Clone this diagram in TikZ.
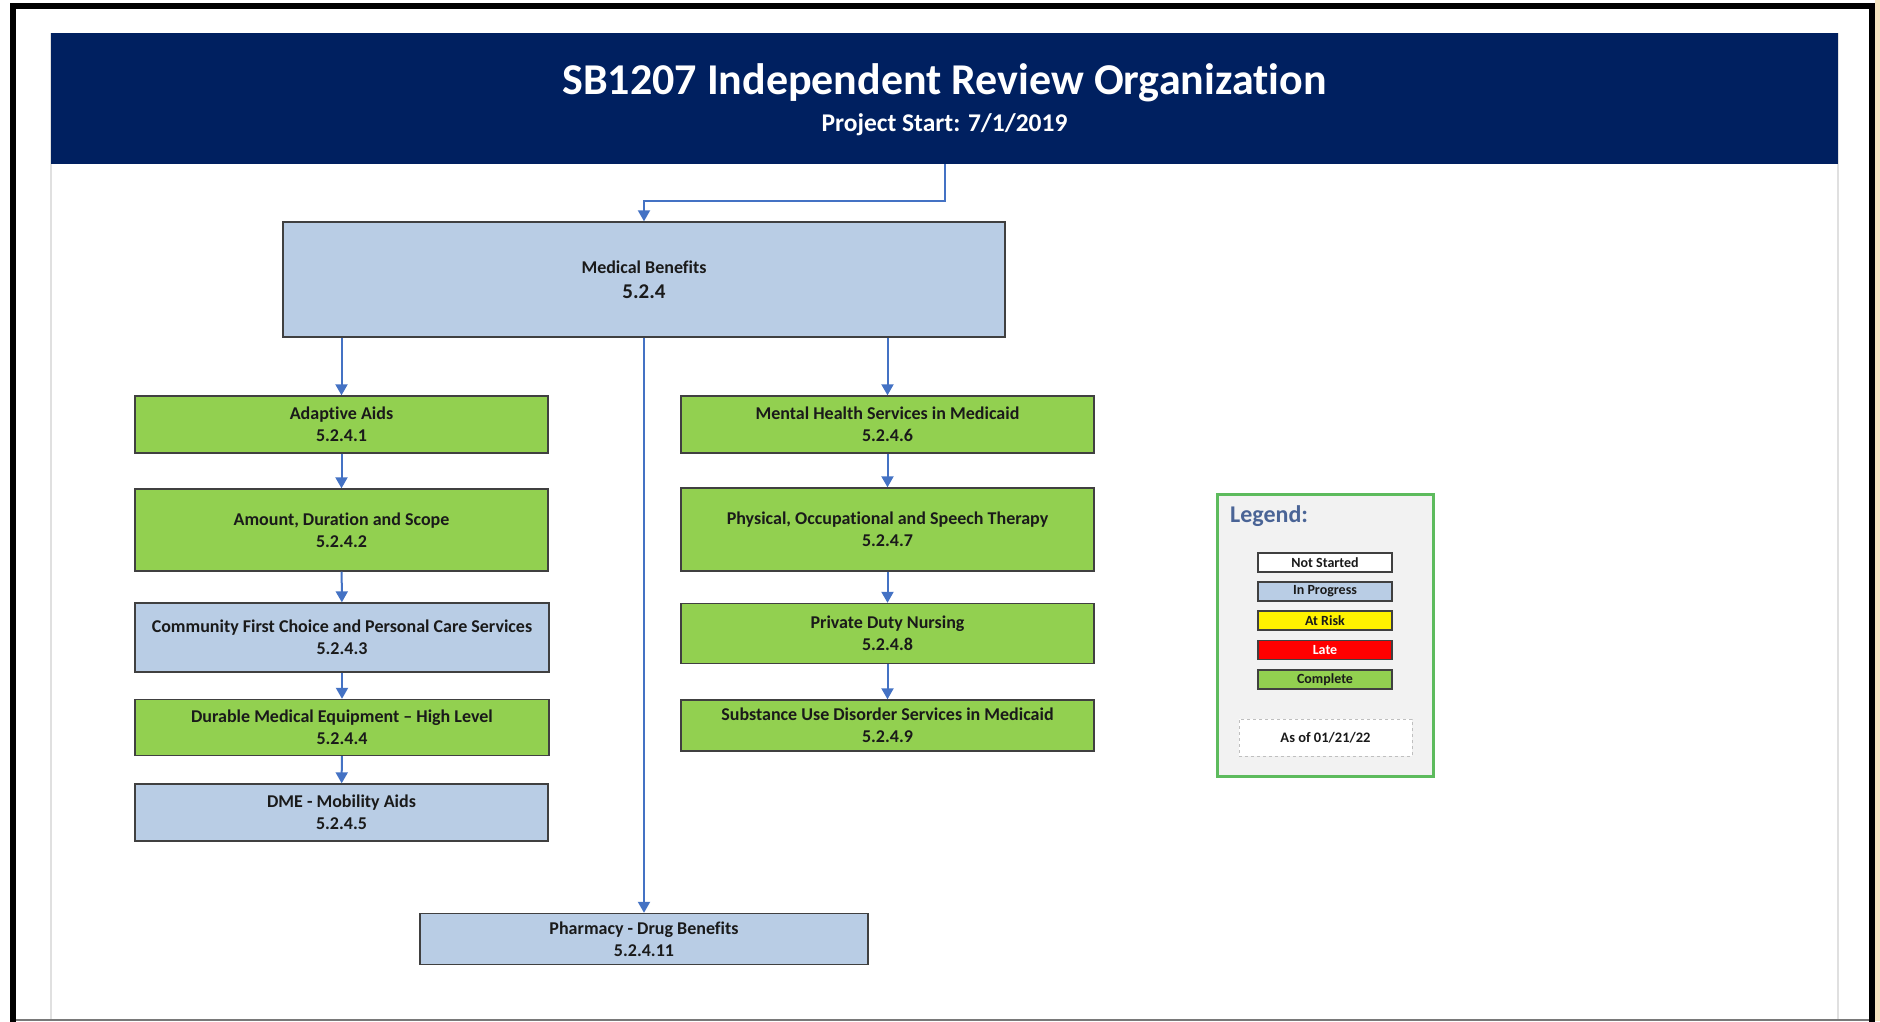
\documentclass[tikz,border=0pt]{standalone}
\usepackage{fontspec}
\setmainfont{Carlito}[Ligatures={NoCommon}]
\usetikzlibrary{arrows.meta,calc}
\definecolor{navy}{HTML}{002060}
\definecolor{grn}{HTML}{92D050}
\definecolor{lblue}{HTML}{B9CDE5}
\definecolor{arrowblue}{HTML}{4472C4}
\definecolor{txt}{HTML}{1A1A1A}
\definecolor{boxgrey}{HTML}{404040}
\definecolor{legG}{HTML}{5DBB5D}
\definecolor{legT}{HTML}{4A6496}
\definecolor{legbg}{HTML}{F2F2F2}
\definecolor{panelgrey}{HTML}{E0E0E0}
\definecolor{beige}{HTML}{F6E3BE}
\begin{document}
\begin{tikzpicture}[x=1pt,y=-1pt,
  taskbox/.style={draw=boxgrey,line width=1.4pt,inner sep=0pt,align=center,
    font=\fontsize{18}{22}\selectfont\bfseries,text=txt},
  done/.style={taskbox,fill=grn},
  prog/.style={taskbox,fill=lblue},
  conn/.style={draw=arrowblue,line width=2pt,-{Triangle[width=12pt,length=11pt]}},
  legitem/.style={draw=boxgrey,line width=1.2pt,minimum width=134pt,minimum height=19pt,
    inner sep=0pt,font=\fontsize{14}{16}\selectfont\bfseries,text=txt}]
\useasboundingbox (0,0) rectangle (1880,1021);
\clip (0,0) rectangle (1880,1021);
\fill[white] (0,0) rectangle (1880,1021);
\fill[beige] (1875,0) rectangle (1880,1021);
% frame
\draw[black,line width=5.5pt] (13,6) rectangle (1872,1060);
\draw[panelgrey,line width=2pt] (51,33) -- (51,1021) (1838,33) -- (1838,1021);
\draw[boxgrey!70,line width=2pt] (16,1020) -- (1869,1020);
% banner
\node[fill=navy,minimum width=1787pt,minimum height=131pt,inner sep=0pt] (banner) at (944.5,98.5) {};
\node[font=\fontsize{44}{50}\selectfont\bfseries,text=white] (title) at (944.5,83) {SB1207 Independent Review Organization};
\node[font=\fontsize{25.5}{30}\selectfont\bfseries,text=white] (subtitle) at (944.5,125) {Project Start: 7/1/2019};
% main box
\node[prog,minimum width=722pt,minimum height=115pt] (mb) at (644,279.5)
  {Medical Benefits\\[3pt]\fontsize{21}{25}\selectfont 5.2.4};
% left column
\node[done,minimum width=413pt,minimum height=57pt] (a1) at (341.5,424.5) {Adaptive Aids\\5.2.4.1};
\node[done,minimum width=413pt,minimum height=82pt] (a2) at (341.5,530) {Amount, Duration and Scope\\5.2.4.2};
\node[prog,minimum width=414pt,minimum height=69pt] (a3) at (342,637.5) {Community First Choice and Personal Care Services\\5.2.4.3};
\node[done,minimum width=414pt,minimum height=56pt] (a4) at (342,727.5) {Durable Medical Equipment – High Level\\5.2.4.4};
\node[prog,minimum width=413pt,minimum height=57pt] (a5) at (341.5,812.5) {DME - Mobility Aids\\5.2.4.5};
% right column
\node[done,minimum width=413pt,minimum height=57pt] (m6) at (887.5,424.5) {Mental Health Services in Medicaid\\5.2.4.6};
\node[done,minimum width=413pt,minimum height=83pt] (m7) at (887.5,529.5) {Physical, Occupational and Speech Therapy\\5.2.4.7};
\node[done,minimum width=413pt,minimum height=60pt] (m8) at (887.5,633.5) {Private Duty Nursing\\5.2.4.8};
\node[done,minimum width=413pt,minimum height=51pt] (m9) at (887.5,725.5) {Substance Use Disorder Services in Medicaid\\5.2.4.9};
% pharmacy
\node[prog,minimum width=448pt,minimum height=51pt] (ph) at (644,939) {Pharmacy - Drug Benefits\\5.2.4.11};
% connectors
\coordinate (turn) at (944.5,201);
\draw[conn] (banner.south) -- (turn) -| (mb.north);
\draw[conn] (mb.south -| a1.north) -- (a1.north);
\draw[conn] (a1) -- (a2);
\draw[conn] (a2) -- (a3);
\draw[conn] (a3) -- (a4);
\draw[conn] (a4) -- (a5);
\draw[conn] (mb.south -| m6.north) -- (m6.north);
\draw[conn] (m6) -- (m7);
\draw[conn] (m7) -- (m8);
\draw[conn] (m8) -- (m9);
\draw[conn] (mb.south) -- (ph.north);
% legend
\node[draw=legG,line width=3pt,fill=legbg,minimum width=216pt,minimum height=282pt,inner sep=0pt] (legend) at (1325,635) {};
\node[anchor=west,inner sep=0pt,font=\fontsize{24}{27}\selectfont\bfseries,text=legT] (legtitle) at (1230,516) {Legend:};
\node[legitem,fill=white] (l1) at (1325,562.5) {Not Started};
\node[legitem,fill=lblue] (l2) at (1325,591.5) {In Progress};
\node[legitem,fill=yellow] (l3) at (1325,620.5) {At Risk};
\node[legitem,fill=red,text=white] (l4) at (1325,650) {Late};
\node[legitem,fill=grn] (l5) at (1325,679.5) {Complete};
\node[draw=black!25,dashed,line width=1pt,fill=white,minimum width=173pt,minimum height=37pt,inner sep=0pt,
  font=\fontsize{14.5}{17}\selectfont\bfseries,text=txt] (asof) at (1325.5,737.5) {As of 01/21/22};
\end{tikzpicture}
\end{document}
